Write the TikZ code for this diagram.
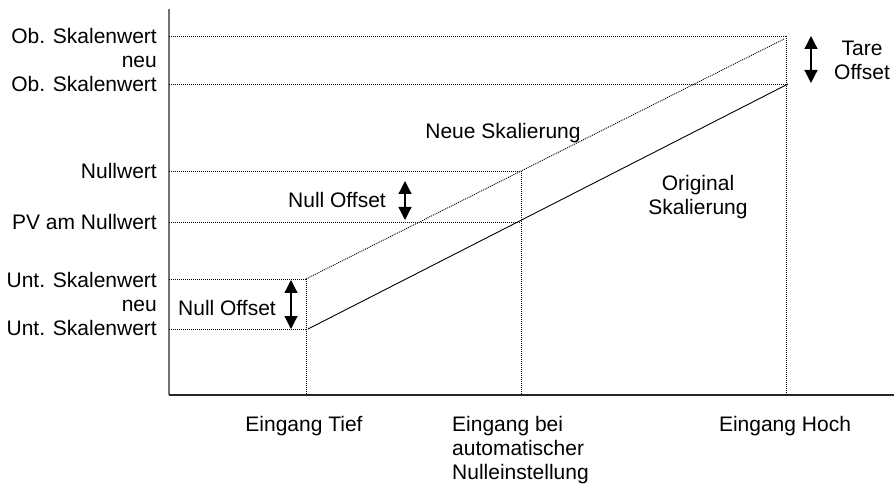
\documentclass[tikz,border=0pt]{standalone}
\usepackage{fontspec}
\setmainfont{Liberation Sans}
\usetikzlibrary{arrows.meta}
\begin{document}
\begin{tikzpicture}[x=1pt,y=-1pt,
  lbl/.style={inner sep=0pt,font=\fontsize{21}{24}\selectfont},
  guide/.style={line width=0.9pt,dash pattern=on 1pt off 1pt,black},
  orig/.style={line width=0.9pt,black},
  offs/.style={line width=1.2pt,{Triangle[width=13pt,length=13pt]}-{Triangle[width=13pt,length=13pt]}}]
\useasboundingbox (0,0) rectangle (894,486);
% axes
\coordinate (O) at (169,395);
\coordinate (Ytop) at (169,9);
\coordinate (Xend) at (894,395);
\draw[line width=1.6pt,black!55] (O) -- (Ytop);
\draw[line width=1.3pt,black!85] (O) -- (Xend);
% levels on y axis
\coordinate (yOn) at (169,36);
\coordinate (yO) at (169,84);
\coordinate (yN) at (169,171);
\coordinate (yPV) at (169,222);
\coordinate (yUn) at (169,279);
\coordinate (yU) at (169,329);
% corner points
\coordinate (pOn) at (787,36);
\coordinate (pO) at (787,84);
\coordinate (pN) at (521,171);
\coordinate (pPV) at (521,222);
\coordinate (pUn) at (306,279);
\coordinate (pU) at (306,329);
\coordinate (xT) at (306,395);
\coordinate (xA) at (521,395);
\coordinate (xH) at (786,395);
\coordinate (hTop) at (786,36);
\coordinate (neuEnd) at (784,39);
\coordinate (origStart) at (308,329);
\coordinate (origEnd) at (788,84);
% guides
\draw[guide] (yOn) -- (pOn);
\draw[guide] (yO) -- (pO);
\draw[guide] (yN) -- (pN);
\draw[guide] (yPV) -- (pPV);
\draw[guide] (yUn) -- (pUn);
\draw[guide] (yU) -- (pU);
\draw[guide] (pUn) -- (xT);
\draw[guide] (pN) -- (xA);
\draw[guide] (hTop) -- (xH);
% scalings
\draw[guide] (pUn) -- (neuEnd);
\draw[orig] (origStart) -- (origEnd);
% offset arrows
\coordinate (a1s) at (405,181);
\coordinate (a1e) at (405,220);
\coordinate (a2s) at (291,280);
\coordinate (a2e) at (291,329);
\coordinate (a3s) at (811,36);
\coordinate (a3e) at (811,83);
\draw[offs] (a1s) -- (a1e);
\draw[offs] (a2s) -- (a2e);
\draw[offs] (a3s) -- (a3e);
% labels
\node[lbl,anchor=east,align=right] (lOb) at (157,60) {Ob. Skalenwert\\neu\\Ob. Skalenwert};
\node[lbl,anchor=east] (lNull) at (157,171) {Nullwert};
\node[lbl,anchor=east] (lPV) at (157,222) {PV am Nullwert};
\node[lbl,anchor=east,align=right] (lUnt) at (157,304) {Unt. Skalenwert\\neu\\Unt. Skalenwert};
\node[lbl] (lNO1) at (337,200) {Null Offset};
\node[lbl] (lNO2) at (227,308) {Null Offset};
\node[lbl] (lNeu) at (503,133) {Neue Skalierung};
\node[lbl,align=center] (lOrig) at (698,197) {Original\\Skalierung};
\node[lbl,align=center] (lTare) at (862,60) {Tare\\Offset};
\node[lbl] (lTief) at (304,426) {Eingang Tief};
\node[lbl,align=left,anchor=west] (lAuto) at (452,450) {Eingang bei\\automatischer\\Nulleinstellung};
\node[lbl] (lHoch) at (785,426) {Eingang Hoch};
\end{tikzpicture}
\end{document}
